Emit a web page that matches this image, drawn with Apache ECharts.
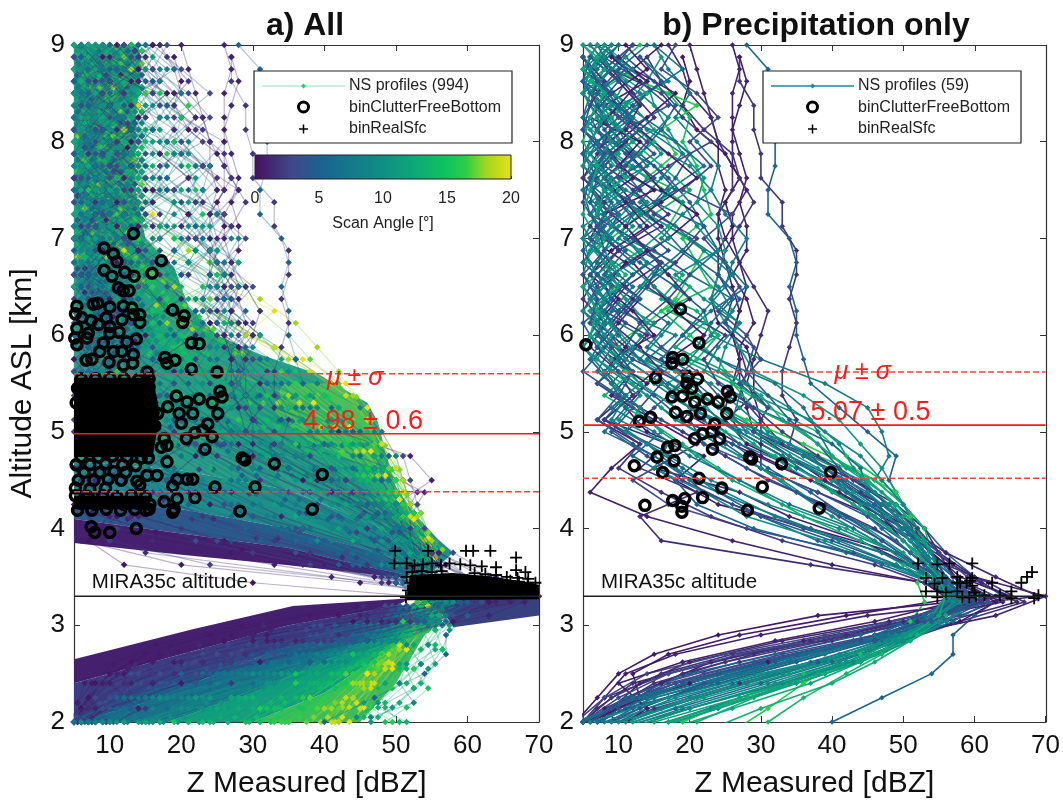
<!DOCTYPE html>
<html><head><meta charset="utf-8">
<style>html,body{margin:0;padding:0;background:#fff}#c{width:1063px;height:806px}</style>
<script src="https://cdn.jsdelivr.net/npm/echarts@6/dist/echarts.min.js"></script>
</head><body><div id="c"></div>
<script>
// altitude bins (km) for even and odd rows
const levelsEven=[9,8.75,8.5,8.25,8,7.75,7.5,7.25,7,6.75,6.5,6.25,6,5.75,5.5,5.25,5,4.75,4.5,4.25,4,3.75,3.5,3.3,3.1,2.9,2.7,2.5,2.25,2];
const levelsOdd=[8.875,8.625,8.375,8.125,7.875,7.625,7.375,7.125,6.875,6.625,6.375,6.125,5.875,5.625,5.375,5.125,4.875,4.625,4.375,4.125,3.875,3.625,3.44,3.24,3.04,2.84,2.62,2.4,2.14,1.9];
const weakLevelsEven=[8.94,8.69,8.44,8.19,7.94,7.69,7.44,7.19,6.94,6.69,6.44,6.19,5.94];
const weakLevelsOdd=[8.81,8.56,8.31,8.06,7.81,7.56,7.31,7.06,6.81,6.56,6.31,6.06,5.81];
const upperLevelsEven=[5.3,5.05,4.8,4.55,4.3,4.1,3.9,3.7];
const upperLevelsOdd=[5.36,5.11,4.86,4.61,4.36,4.16,3.96,3.78];
const lowerLevelsEven=[3.2,3,2.8,2.6,2.4,2.2,2.05];
const lowerLevelsOdd=[3.15,2.95,2.75,2.55,2.35,2.15,2];
const xTicks=[10,20,30,40,50,60,70];
const angleTicks=[0,5,10,15,20];
const angleStops=[[0,'#45105f'],[3,'#3f4a8a'],[5,'#1b6090'],[7.5,'#14798a'],[10,'#0f8f84'],[12.5,'#0fa878'],[15,'#10c45c'],[16.5,'#2fcf45'],[18,'#a0d620'],[20,'#ecdf10']];
const precipAngles=[5.5,2,1,1,1,.5,1.5,2,8,11,15,16,14,4.5,3,6,9,10,7,12,13,8.5,2.5,1,.5,3.5,5,6.5,9.5,10.5,8,11.5,7.5,4,2,1,.5,1.5,3,.8,5.5,6,9,10,12,13,7,4,3,2,6.5,8.5,11,9.5,7,5,10,3.5,12.5];
const precipProfiles=[
[28,31,31,31,32,32,31,31,34,35,34,35,35,36,37,41,45,49,48,50,53,56,60,64,60,57,57,54,47,40],
[27,27,29,29,30,30,33,33,35,35,34,35,34,33,33,35,34,41,46,49,52,56,62,67,58,50,38,27,15,7],
[26,27,26,26,26,26,28,26,26,27,28,27,26,27,27,28,29,34,39,45,51,56,63,69,45,30,18,11,8,5],
[27,28,27,26,27,28,27,28,28,26,28,29,27,27,29,30,30,30,38,46,52,57,61,66,56,44,30,18,9,3],
[20,21,22,23,24,24,25,24,24,25,26,27,26,27,26,25,27,33,40,47,51,55,60,70,63,50,35,24,14,4],
[19,20,19,21,25,27,25,26,24,24,23,24,28,29,29,25,28,35,42,48,52,56,58,63,58,46,31,20,10,3],
[17,19,20,23,24,26,26,24,25,27,29,31,30,29,28,31,29,36,43,49,53,55,57,62,54,42,29,19,11,5],
[14,16,19,22,26,27,29,27,25,24,26,25,27,28,27,30,33,39,44,50,53,55,56,60,52,40,27,16,10,6],
[15,17,20,18,21,24,23,25,28,26,25,22,23,30,39,45,47,48,46,50,52,54,57,61,57,52,46,38,27,17],
[16,14,15,17,19,22,21,24,25,24,23,25,27,29,36,41,44,47,49,51,53,54,56,59,55,50,43,34,24,14],
[13,9,17,20,19,21,22,23,19,21,23,16,20,24,26,31,38,42,47,50,52,53,53,56,54,50,44,36,27,19],
[6,13,21,16,18,14,19,17,22,20,18,14,9,11,20,28,36,43,49,51,52,53,52,53,51,47,41,36,31,26],
[8,12,7,10,15,11,18,13,9,14,20,17,24,21,17,25,30,38,46,50,53,54,55,57,55,52,47,42,36,31],
[11,15,18,16,13,17,20,22,19,24,27,25,29,28,31,34,38,41,42,46,51,54,57,61,56,49,38,28,16,8],
[18,16,21,24,20,23,19,26,22,25,27,24,28,30,27,31,29,37,41,46,51,55,59,65,58,46,33,22,12,5],
[9,14,11,16,20,18,15,22,24,20,26,23,21,27,25,33,40,44,45,48,51,55,58,62,57,50,40,30,18,8],
[12,8,13,17,14,20,23,19,16,21,24,26,23,20,28,34,39,44,47,50,52,54,55,58,55,50,42,32,20,10],
[7,11,9,13,16,12,19,21,24,18,22,27,25,24,29,37,41,43,46,49,52,54,56,60,56,51,44,35,23,12],
[15,19,14,11,18,22,17,14,20,25,28,23,19,24,32,36,38,40,45,49,52,54,56,58,54,47,37,27,15,7],
[10,6,12,15,9,14,11,17,13,19,16,22,18,25,30,33,38,42,47,50,52,53,55,57,54,50,44,37,26,16],
[5,9,14,8,12,16,20,15,11,18,13,21,24,19,26,29,36,40,45,49,52,54,55,58,56,51,46,39,29,21],
[13,17,10,14,19,16,13,18,22,26,23,27,24,22,27,26,34,39,45,49,52,54,55,59,55,49,41,31,19,9],
[12,9,16,19,23,17,12,15,21,18,14,19,25,22,24,29,33,38,43,48,52,55,57,63,55,43,28,17,8,4],
[10,14,8,13,17,21,16,11,14,17,20,15,12,19,22,19,26,33,41,47,50,54,57,64,50,36,23,16,8,11],
[16,12,18,14,10,13,16,21,17,12,15,18,22,17,13,18,24,30,37,44,50,54,58,65,38,24,15,10,7,4],
[8,13,17,11,15,10,14,9,15,20,17,13,16,21,24,20,22,30,38,45,50,54,57,61,54,43,30,18,9,4],
[14,10,7,12,9,15,18,12,8,13,18,22,19,16,21,25,28,34,41,46,50,54,56,60,55,47,35,24,13,6],
[6,10,13,9,12,8,11,16,19,15,12,17,14,20,17,23,27,35,42,47,51,54,56,59,54,47,37,26,14,7],
[9,5,8,11,7,12,9,13,17,11,15,19,16,13,23,27,31,37,44,48,51,54,55,58,55,50,42,33,21,11],
[11,7,10,6,13,8,14,10,7,12,9,15,12,18,22,26,32,38,43,48,51,53,55,57,54,49,42,32,20,10],
[7,12,6,9,11,14,8,12,10,16,13,10,18,14,19,24,30,36,42,47,51,53,55,58,54,48,39,29,17,8],
[5,8,11,7,10,6,12,9,13,8,11,14,10,16,21,24,29,34,40,46,50,53,55,57,54,50,44,35,24,13],
[10,6,9,12,7,10,13,8,11,14,10,7,13,18,15,20,27,33,40,45,50,53,55,58,54,47,38,28,15,7],
[13,16,12,8,11,15,10,13,17,12,9,13,11,15,18,22,25,30,35,42,49,53,56,61,54,44,30,19,10,5],
[6,9,12,15,11,8,13,17,12,16,11,8,14,11,16,13,19,25,31,39,46,51,55,62,54,41,26,16,9,5],
[8,5,10,13,9,12,7,11,14,9,13,10,7,12,9,15,21,15,27,34,44,51,55,60,48,33,20,13,9,6],
[11,14,9,6,13,10,15,8,6,11,8,12,15,9,14,11,14,22,18,24,37,49,54,59,42,27,17,12,13,6],
[7,10,13,11,6,9,12,16,10,7,12,9,13,16,12,8,17,13,21,13,16,37,53,58,50,37,23,12,7,4],
[12,8,6,10,14,11,8,6,12,16,14,11,8,12,19,15,11,18,12,17,28,43,54,59,52,39,25,14,8,5],
[9,13,10,7,5,8,11,14,9,6,10,7,11,8,11,7,13,9,6,14,26,40,53,57,46,32,19,10,14,9],
[8,11,7,5,9,13,6,10,8,12,6,10,7,12,9,13,16,12,18,21,29,42,54,57,53,44,32,20,11,5],
[5,7,10,13,8,5,9,7,11,8,13,6,9,7,11,8,14,19,24,30,38,47,54,58,53,45,34,23,12,6],
[6,9,5,8,10,7,11,6,9,7,10,8,6,10,7,13,11,17,23,31,41,49,54,57,54,49,41,31,18,9],
[8,5,7,10,6,9,7,12,8,10,6,9,12,8,13,10,17,15,22,28,39,48,54,58,54,49,42,33,20,10],
[5,8,6,9,12,7,10,6,8,5,9,7,10,6,9,12,16,21,26,33,42,49,54,56,54,50,45,38,27,15],
[7,6,9,5,8,11,6,9,7,11,8,6,9,12,8,14,19,24,30,36,44,50,54,57,55,51,46,40,30,22],
[9,6,8,11,7,5,8,10,6,8,12,9,7,10,13,9,15,20,27,34,43,49,54,58,53,46,36,26,14,7],
[6,10,7,5,9,6,12,7,10,6,8,11,8,5,10,7,12,18,22,30,40,49,54,59,53,44,32,22,13,6],
[7,5,9,6,8,10,6,9,5,9,7,5,9,11,7,12,9,14,19,26,36,47,54,60,52,41,27,17,10,5],
[5,8,6,9,7,5,8,6,10,7,5,8,6,10,12,8,13,10,16,23,33,46,53,61,52,39,25,15,9,4],
[10,7,5,8,6,9,5,8,7,5,9,6,8,6,9,11,8,15,20,28,37,47,54,58,53,46,36,25,12,5],
[6,5,8,7,5,8,10,5,7,9,6,8,5,8,11,9,14,18,25,32,41,49,54,57,54,48,39,28,16,6],
[8,6,5,7,9,6,8,7,5,8,10,6,9,7,12,16,21,27,33,38,45,50,54,56,54,50,43,34,22,12],
[5,7,9,5,8,6,7,9,6,5,8,7,5,9,14,18,24,30,35,40,46,51,54,57,55,50,43,33,20,8],
[7,9,6,5,7,8,5,6,9,7,5,8,10,13,17,22,27,33,38,43,47,51,55,59,54,47,38,27,13,4],
[6,5,7,9,5,7,6,8,5,7,9,5,7,10,15,19,26,31,37,42,47,52,56,60,54,46,35,24,11,4],
[9,6,5,8,6,5,9,7,5,6,8,5,8,11,16,20,28,34,40,44,48,52,55,58,55,50,42,30,17,6],
[5,7,6,5,8,6,5,7,8,5,7,6,9,12,10,16,22,28,35,41,47,52,57,62,53,43,29,17,9,4],
[7,5,8,6,5,7,6,5,7,9,5,7,6,9,13,18,25,32,38,43,48,52,55,56,55,51,46,39,28,17]
];
const clearAngles=[16,18,19,17,20,15,14,13,12,11,10,9,16.5,14.5,13.5,12.5,11.5,10.5,9.5,8.5,8,7.5,7,6.5,6,5,4,3,2,1,.5,.8,1.5,2.5,3.5,4.5,5.5,10,8,11,7,12,9,13,6,1.5,1,2,3,18,17,15,12,.3,2.2,3.2,4.2,5.2,6.2,7.2,8.2,9.2,10.2,11.2,12.2,13.2,14.2,15.2,16.2,17.2,18.2,19.2];
const clearProfiles=[
[12,7,14,9,13,6,11,15,8,12,16,10,14,18,24,33,42,47,50,52,54,55,53,54,52,49,46,42,37,33],
[8,13,6,11,15,9,14,7,12,16,11,18,22,27,35,41,46,49,51,53,55,56,54,54,53,51,48,45,41,39],
[14,9,12,7,10,14,8,13,16,10,19,24,30,36,41,45,47,49,50,51,52,53,52,53,52,50,48,46,43,41],
[6,11,15,8,13,10,15,9,14,18,24,21,28,34,38,43,46,48,50,52,54,55,53,54,53,50,47,44,39,36],
[10,15,7,12,8,14,11,16,12,21,26,33,29,37,43,46,48,50,51,52,53,54,52,52,51,50,48,46,44,42],
[13,6,10,14,7,12,16,11,7,13,17,14,19,25,32,39,44,47,50,52,54,55,53,55,53,50,45,39,32,27],
[7,12,15,9,11,6,13,8,14,10,15,19,23,29,36,42,46,48,49,51,53,55,54,56,54,50,44,37,29,23],
[11,8,5,13,9,15,7,11,16,12,9,14,17,22,29,35,40,44,47,50,52,54,54,56,54,50,43,35,26,19],
[6,14,9,7,12,10,14,6,9,13,11,16,13,19,24,30,36,41,45,48,51,53,54,56,54,49,41,32,22,15],
[9,5,13,10,6,14,8,12,10,7,14,10,15,12,18,25,31,37,42,46,50,52,53,56,54,49,40,30,19,12],
[12,8,6,11,14,7,10,5,13,9,12,8,11,16,13,20,27,33,38,43,47,51,53,55,53,48,38,27,16,9],
[5,10,13,7,9,12,6,14,8,11,6,13,9,14,11,16,22,28,34,39,44,49,52,56,53,47,37,26,14,7],
[9,6,12,15,8,11,13,7,10,15,12,9,15,21,28,36,43,47,50,52,53,54,52,54,52,50,47,43,38,34],
[13,11,7,10,14,5,9,12,15,8,13,17,21,16,24,32,40,45,48,51,53,54,53,55,54,51,47,41,34,28],
[7,9,14,6,12,15,11,6,9,14,10,7,13,18,26,34,41,45,47,49,51,52,52,54,53,50,45,38,30,24],
[10,14,6,13,5,8,12,15,7,11,8,14,17,23,28,31,35,40,44,47,50,52,53,55,54,50,43,36,25,18],
[6,11,9,5,12,7,14,9,12,6,10,13,9,12,19,26,33,38,42,45,49,52,53,56,54,49,42,33,22,14],
[14,7,10,13,8,11,6,13,5,10,14,7,12,8,14,21,28,35,40,44,48,51,53,56,54,49,41,31,20,11],
[8,12,5,9,14,6,10,7,12,15,8,11,6,11,15,18,25,31,37,42,46,50,53,57,54,48,39,29,18,10],
[11,6,14,8,7,13,10,14,9,6,12,9,14,10,8,14,21,27,33,39,45,50,53,57,53,47,36,25,14,8],
[5,13,9,12,6,10,5,11,14,8,10,13,7,13,10,6,15,22,29,36,42,48,52,56,53,46,34,23,13,7],
[12,9,7,14,11,5,13,8,6,12,14,6,11,8,13,11,8,18,26,33,40,47,52,57,53,45,33,22,12,6],
[7,14,11,6,9,13,7,12,10,5,8,11,14,9,6,12,16,13,22,30,38,46,51,56,52,44,32,20,11,6],
[10,5,8,13,6,10,14,6,9,13,11,7,9,6,11,8,13,10,18,27,36,45,51,58,52,43,30,18,10,5],
[13,8,11,5,14,7,9,12,7,11,5,9,12,7,10,14,9,15,20,26,34,44,51,57,52,42,28,17,9,5],
[6,10,13,9,7,12,5,10,14,6,9,13,8,11,7,10,13,8,14,22,33,44,50,58,51,40,26,15,9,6],
[9,13,5,11,8,6,11,14,5,10,12,6,9,5,12,8,6,11,16,19,30,42,50,58,50,38,24,14,8,5],
[11,6,9,7,13,10,8,5,11,14,7,10,6,10,7,13,9,12,9,15,25,40,50,60,50,37,22,13,8,5],
[5,8,12,10,6,13,9,7,13,8,11,5,10,7,9,6,11,7,12,9,20,38,49,61,49,35,21,12,7,5],
[8,11,6,14,9,5,12,10,7,5,9,12,7,11,6,9,7,10,6,11,13,33,49,63,49,34,20,11,7,5],
[6,9,13,7,10,12,6,8,11,9,6,8,11,5,8,10,6,9,8,5,9,27,47,66,48,32,18,10,7,5],
[12,7,10,5,8,11,14,6,9,13,7,10,5,9,6,8,12,5,7,10,6,20,45,68,47,30,16,9,6,5],
[5,10,7,12,6,9,7,13,5,8,11,7,9,12,8,6,9,11,8,6,8,15,41,60,46,30,17,10,7,6],
[9,6,11,8,13,5,10,8,12,6,9,13,6,8,11,7,10,6,9,13,10,24,48,59,47,33,19,11,8,5],
[7,12,5,10,7,14,6,11,9,12,5,8,11,6,9,12,8,13,7,11,18,36,49,58,49,36,23,13,8,6],
[14,9,7,5,11,8,12,5,13,7,10,6,13,9,5,10,7,9,13,17,27,40,50,57,50,38,25,15,9,7],
[6,13,10,8,5,12,9,7,5,11,13,8,5,12,8,11,14,10,16,21,32,43,50,56,51,41,28,17,10,8],
[15,12,17,19,21,18,22,20,24,26,23,28,30,35,40,44,47,49,50,51,52,54,54,57,54,49,41,30,18,10],
[14,18,16,20,17,22,25,21,27,24,29,27,31,36,41,45,48,50,51,52,53,55,55,58,54,48,38,26,15,8],
[11,13,16,14,19,16,20,23,19,25,22,26,24,33,38,42,46,48,50,52,53,55,54,57,54,49,42,31,19,11],
[13,11,15,17,13,18,16,21,24,19,27,24,29,25,33,38,43,47,49,51,53,55,55,59,53,46,35,24,14,8],
[9,14,12,16,13,15,19,17,22,26,21,28,25,30,36,41,45,48,50,52,54,55,54,56,54,50,44,35,24,15],
[16,13,18,14,20,23,19,25,22,28,26,23,27,32,35,39,44,47,49,51,53,54,54,58,54,49,40,29,17,9],
[12,15,11,14,17,12,16,19,15,21,18,24,27,23,30,37,43,46,49,51,53,55,54,56,54,50,45,38,28,20],
[17,15,19,22,18,24,21,26,23,21,25,29,26,31,34,37,41,45,48,50,52,54,55,60,54,46,34,24,13,7],
[15,17,14,19,17,21,23,20,24,27,25,28,26,29,27,30,36,47,54,52,52,55,60,66,56,42,27,16,9,5],
[13,16,19,22,19,23,26,24,22,25,28,25,30,27,31,33,42,52,55,50,51,56,62,68,57,43,27,16,8,5],
[18,21,18,23,20,25,22,27,24,21,27,30,28,32,29,34,40,49,53,51,50,56,63,64,55,41,26,15,9,6],
[16,20,24,20,26,23,28,25,29,26,30,27,31,29,32,35,44,51,52,53,54,58,64,62,54,40,25,15,9,6],
[9,13,8,15,11,14,12,17,21,26,31,36,39,42,44,46,48,50,51,52,54,55,53,54,52,50,47,44,40,37],
[7,12,15,10,14,9,16,13,19,24,29,31,35,38,42,45,47,49,51,52,53,54,53,54,53,50,46,43,38,35],
[10,8,14,11,7,15,12,10,17,25,27,26,33,36,40,44,47,49,50,52,53,55,54,55,53,50,46,40,33,28],
[8,15,11,13,16,12,15,21,24,28,25,27,31,34,37,42,45,47,50,51,53,54,54,56,54,49,43,35,24,16],
[7,10,5,9,13,6,11,8,10,7,12,6,9,5,10,7,9,5,8,11,7,12,30,62,44,26,13,8,6,5],
[10,5,12,7,9,14,5,10,6,13,8,11,6,12,6,9,5,12,6,8,11,30,48,58,48,36,24,15,9,6],
[5,9,7,13,11,6,9,12,8,5,11,6,10,7,13,5,10,7,11,14,22,38,50,56,48,38,28,18,11,7],
[11,7,14,6,10,8,13,6,11,9,5,12,8,10,6,12,8,13,10,15,24,39,50,54,50,40,30,20,12,8],
[8,13,6,10,12,5,9,13,7,11,14,8,11,5,9,13,6,11,17,22,31,42,50,55,50,42,31,22,13,8],
[5,11,8,14,7,10,6,12,9,6,10,13,5,10,14,7,12,16,21,27,35,44,51,54,50,43,33,24,14,9],
[12,6,10,5,13,9,11,5,14,8,11,7,12,8,11,14,10,18,24,30,38,46,51,55,51,45,36,26,16,10],
[6,14,9,12,5,11,7,13,6,10,13,5,10,14,7,12,17,23,28,34,41,47,52,55,52,46,38,29,19,12],
[13,8,5,10,14,7,12,9,11,5,8,12,7,11,14,18,22,27,33,38,44,49,52,56,52,47,39,31,21,14],
[7,11,14,6,9,13,5,10,7,13,11,6,13,9,16,20,25,31,36,41,46,50,53,55,53,48,41,33,23,16],
[10,5,9,13,7,11,14,6,12,9,6,11,8,14,18,23,29,34,39,43,48,51,53,55,53,49,43,35,26,18],
[14,9,12,7,5,10,6,13,8,11,14,9,13,17,22,28,33,38,42,46,50,52,53,55,53,49,44,37,28,21],
[6,12,8,11,14,7,10,5,13,7,11,15,10,16,25,31,37,41,45,48,51,53,53,54,53,50,45,39,31,25],
[11,7,13,5,9,12,8,14,6,12,9,13,17,22,29,35,40,44,47,49,51,53,53,54,53,50,46,41,34,29],
[9,14,6,11,13,8,12,6,10,14,11,16,20,26,32,38,43,46,48,50,52,53,52,54,52,50,47,43,37,32],
[6,10,13,8,12,15,7,11,14,9,14,18,24,30,36,41,45,48,50,51,53,54,52,53,52,50,48,44,40,35],
[12,8,11,14,6,10,13,9,12,16,13,20,27,33,39,44,47,49,50,52,53,54,52,53,52,50,48,46,42,39],
[7,13,9,6,12,14,8,13,10,14,18,24,29,35,41,45,47,49,51,52,53,54,52,53,52,51,49,47,44,42],
[10,6,14,12,8,11,15,7,12,17,22,27,33,38,43,46,48,50,51,52,53,53,52,53,52,51,49,47,45,44]
];
// weak upper-level segments of panel a
const weakAngles=[12,9,15,2,11,16,7,13,10,18,1,14,8,12.5,4,15.5,9.5,11.5,3,13.5,6,17,10.5,14.5,0.5,8.5,12,5,16,9,13,7.5,11,15,2.5,10,14,6.5,12,17.5];
const weakRows=[
[6.5,11.5,8.5,13.5,7.5,10.5,14.5,5.5,9.5,12.5,6.5,13.5,16.5],[10.5,5.5,13.5,9.5,6.5,12.5,7.5,11.5,14.5,8.5,11.5,15.5,10.5],[13.5,8.5,6.5,11.5,14.5,5.5,10.5,13.5,7.5,15.5,9.5,12.5,17.5],[7.5,14.5,10.5,5.5,12.5,8.5,13.5,6.5,11.5,9.5,14.5,8.5,12.5],
[5.5,9.5,12.5,7.5,10.5,14.5,6.5,8.5,13.5,11.5,17.5,14.5,19.5],[11.5,6.5,14.5,10.5,8.5,5.5,12.5,9.5,6.5,13.5,10.5,18.5,15.5],[8.5,12.5,5.5,13.5,6.5,11.5,9.5,14.5,10.5,7.5,12.5,9.5,14.5],[14.5,7.5,10.5,6.5,13.5,9.5,5.5,11.5,8.5,14.5,11.5,16.5,13.5],
[9.5,13.5,7.5,11.5,5.5,14.5,10.5,6.5,12.5,9.5,15.5,12.5,20.5],[6.5,10.5,14.5,8.5,12.5,7.5,13.5,11.5,5.5,13.5,16.5,21.5,18.5],[12.5,5.5,9.5,6.5,11.5,13.5,8.5,10.5,14.5,6.5,11.5,8.5,13.5],[7.5,11.5,6.5,14.5,9.5,5.5,12.5,7.5,10.5,16.5,13.5,18.5,22.5],
[13.5,8.5,11.5,5.5,10.5,12.5,6.5,14.5,8.5,11.5,9.5,15.5,12.5],[5.5,12.5,8.5,10.5,14.5,6.5,9.5,11.5,13.5,7.5,14.5,11.5,17.5],[10.5,14.5,6.5,12.5,7.5,11.5,14.5,5.5,9.5,12.5,8.5,13.5,10.5],[8.5,6.5,13.5,9.5,5.5,13.5,7.5,12.5,10.5,15.5,18.5,14.5,20.5],
[11.5,9.5,5.5,14.5,8.5,10.5,12.5,6.5,14.5,9.5,13.5,17.5,14.5],[6.5,13.5,10.5,7.5,12.5,5.5,8.5,13.5,7.5,12.5,10.5,14.5,18.5],[14.5,5.5,8.5,11.5,6.5,13.5,10.5,7.5,12.5,5.5,9.5,6.5,11.5],[9.5,7.5,12.5,5.5,14.5,8.5,11.5,13.5,6.5,14.5,17.5,13.5,19.5],
[12.5,10.5,6.5,13.5,7.5,9.5,5.5,12.5,10.5,8.5,13.5,16.5,12.5],[5.5,8.5,13.5,10.5,6.5,14.5,11.5,7.5,13.5,17.5,20.5,24.5,27.5],[10.5,13.5,7.5,5.5,11.5,8.5,12.5,14.5,6.5,10.5,14.5,12.5,16.5],[7.5,5.5,11.5,14.5,9.5,6.5,13.5,10.5,12.5,15.5,12.5,18.5,23.5],
[13.5,11.5,8.5,6.5,12.5,10.5,5.5,9.5,7.5,13.5,6.5,10.5,8.5],[6.5,9.5,14.5,11.5,5.5,12.5,8.5,13.5,10.5,7.5,14.5,18.5,16.5],[11.5,7.5,5.5,9.5,13.5,6.5,14.5,10.5,8.5,16.5,13.5,19.5,15.5],[8.5,14.5,12.5,6.5,10.5,13.5,7.5,5.5,11.5,9.5,6.5,12.5,7.5],
[14.5,6.5,9.5,12.5,8.5,5.5,11.5,13.5,9.5,14.5,17.5,22.5,25.5],[5.5,11.5,13.5,7.5,14.5,9.5,6.5,10.5,14.5,12.5,9.5,13.5,16.5],[9.5,12.5,6.5,10.5,5.5,13.5,8.5,11.5,7.5,12.5,16.5,13.5,18.5],[12.5,5.5,10.5,13.5,7.5,11.5,14.5,6.5,9.5,6.5,10.5,14.5,11.5],
[7.5,13.5,8.5,5.5,11.5,14.5,10.5,12.5,5.5,11.5,14.5,11.5,15.5],[10.5,6.5,14.5,11.5,9.5,7.5,13.5,5.5,12.5,14.5,19.5,16.5,23.5],[13.5,9.5,7.5,12.5,6.5,10.5,5.5,14.5,8.5,11.5,7.5,12.5,9.5],[5.5,14.5,11.5,8.5,13.5,6.5,12.5,9.5,10.5,6.5,12.5,15.5,11.5],
[11.5,8.5,13.5,6.5,10.5,12.5,7.5,14.5,5.5,13.5,15.5,12.5,17.5],[8.5,12.5,5.5,14.5,7.5,9.5,13.5,6.5,11.5,8.5,14.5,10.5,13.5],[6.5,10.5,12.5,9.5,5.5,14.5,11.5,8.5,13.5,10.5,12.5,16.5,20.5],[14.5,7.5,11.5,5.5,13.5,8.5,6.5,12.5,9.5,14.5,18.5,23.5,28.5]
];
// upper fan segments of panel a
const upperAngles=[1,.5,2,3,1.5,4,5,2.5,6,3.5,7,4.5,8,5.5,9,6.5,10,7.5,11,8.5,12,9.5,13,10.5,14,11.5,15,12.5,16,13.5,17,14.5,18,15.5,19,16.5,20,17.5];
const upperRows=[
[8.5,6.5,9.5,7.5,10.5,12.5,19.5,37.5],[6.5,9.5,7.5,5.5,8.5,7.5,16.5,28.5],[11.5,8.5,12.5,10.5,14.5,21.5,30.5,44.5],[9.5,12.5,10.5,15.5,21.5,27.5,36.5,47.5],[13.5,10.5,13.5,11.5,17.5,24.5,33.5,42.5],[12.5,15.5,19.5,24.5,30.5,36.5,43.5,50.5],[14.5,18.5,22.5,28.5,34.5,40.5,46.5,51.5],[16.5,13.5,17.5,22.5,29.5,37.5,44.5,49.5],
[11.5,16.5,23.5,30.5,36.5,42.5,47.5,52.5],[18.5,20.5,25.5,33.5,40.5,45.5,49.5,52.5],[13.5,19.5,26.5,33.5,39.5,44.5,48.5,52.5],[21.5,26.5,32.5,38.5,43.5,47.5,50.5,52.5],[15.5,22.5,29.5,35.5,41.5,45.5,49.5,53.5],[24.5,30.5,36.5,41.5,45.5,48.5,50.5,53.5],[16.5,24.5,31.5,37.5,42.5,46.5,50.5,53.5],[27.5,33.5,38.5,43.5,46.5,49.5,51.5,53.5],
[18.5,25.5,32.5,38.5,43.5,47.5,50.5,53.5],[30.5,35.5,40.5,44.5,47.5,49.5,51.5,54.5],[19.5,27.5,34.5,40.5,44.5,48.5,51.5,53.5],[33.5,38.5,42.5,45.5,48.5,50.5,52.5,54.5],[20.5,26.5,31.5,36.5,41.5,45.5,49.5,53.5],[35.5,40.5,43.5,46.5,49.5,51.5,53.5,55.5],[22.5,29.5,35.5,40.5,44.5,47.5,50.5,53.5],[38.5,42.5,45.5,48.5,50.5,52.5,53.5,55.5],
[24.5,31.5,37.5,42.5,46.5,49.5,51.5,53.5],[28.5,34.5,39.5,43.5,46.5,49.5,51.5,54.5],[26.5,33.5,39.5,44.5,47.5,50.5,52.5,54.5],[31.5,36.5,41.5,45.5,48.5,50.5,52.5,54.5],[29.5,35.5,41.5,45.5,48.5,50.5,52.5,54.5],[34.5,38.5,43.5,46.5,49.5,51.5,53.5,54.5],[31.5,38.5,42.5,46.5,49.5,51.5,53.5,55.5],[37.5,41.5,44.5,47.5,50.5,52.5,53.5,55.5],
[33.5,39.5,44.5,47.5,50.5,52.5,54.5,55.5],[40.5,43.5,46.5,48.5,50.5,52.5,54.5,55.5],[36.5,41.5,45.5,48.5,50.5,52.5,54.5,55.5],[42.5,45.5,47.5,49.5,51.5,53.5,54.5,55.5],[38.5,43.5,46.5,48.5,50.5,52.5,54.5,55.5],[44.5,46.5,48.5,50.5,51.5,53.5,54.5,56.5]
];
// lower fan segments of panel a
const lowerAngles=[.5,1,1.5,2,2.5,3,3.5,4,4.5,5,5.5,6,6.5,7,7.5,8,8.5,9,9.5,10,10.5,11,11.5,12,12.5,13,13.5,14,14.5,15,15.5,16,16.5,17,17.5,18,18.5,19,19.5,20,.8,2.2,3.8,5.2,6.8,8.2,14,11,13,15,10,16,12,14,9,13];
const lowerRows=[
[44.5,28.5,16.5,10.5,7.5,5.5,6.5],[47.5,32.5,20.5,12.5,8.5,6.5,5.5],[45.5,31.5,22.5,13.5,9.5,7.5,6.5],[48.5,35.5,24.5,15.5,10.5,7.5,5.5],[46.5,36.5,26.5,17.5,11.5,8.5,6.5],[49.5,37.5,28.5,19.5,12.5,9.5,7.5],[48.5,39.5,30.5,21.5,14.5,9.5,6.5],[50.5,40.5,32.5,23.5,15.5,10.5,7.5],
[49.5,41.5,33.5,25.5,17.5,11.5,8.5],[51.5,42.5,34.5,26.5,18.5,12.5,9.5],[50.5,43.5,35.5,27.5,20.5,13.5,9.5],[51.5,44.5,36.5,29.5,21.5,14.5,10.5],[50.5,45.5,37.5,30.5,22.5,15.5,11.5],[52.5,45.5,38.5,31.5,24.5,17.5,12.5],[51.5,46.5,39.5,32.5,25.5,18.5,13.5],[52.5,47.5,40.5,33.5,26.5,19.5,15.5],
[51.5,46.5,41.5,34.5,27.5,21.5,16.5],[53.5,48.5,41.5,35.5,29.5,22.5,17.5],[52.5,47.5,42.5,36.5,30.5,23.5,18.5],[53.5,48.5,43.5,37.5,31.5,24.5,19.5],[52.5,49.5,43.5,38.5,32.5,25.5,20.5],[53.5,48.5,44.5,39.5,33.5,26.5,22.5],[52.5,49.5,45.5,39.5,34.5,27.5,23.5],[53.5,49.5,45.5,40.5,35.5,29.5,24.5],
[53.5,50.5,46.5,41.5,36.5,30.5,25.5],[54.5,50.5,46.5,42.5,37.5,31.5,26.5],[53.5,50.5,47.5,42.5,38.5,32.5,27.5],[54.5,50.5,47.5,43.5,39.5,33.5,29.5],[53.5,51.5,48.5,44.5,40.5,34.5,30.5],[54.5,51.5,48.5,45.5,41.5,36.5,32.5],[54.5,51.5,48.5,45.5,42.5,37.5,33.5],[54.5,51.5,49.5,46.5,43.5,38.5,34.5],
[54.5,52.5,49.5,46.5,43.5,39.5,36.5],[55.5,52.5,49.5,47.5,44.5,40.5,37.5],[54.5,52.5,50.5,47.5,44.5,41.5,38.5],[55.5,52.5,50.5,48.5,45.5,42.5,39.5],[54.5,52.5,50.5,48.5,45.5,42.5,40.5],[55.5,53.5,51.5,48.5,46.5,43.5,41.5],[54.5,52.5,50.5,49.5,46.5,44.5,42.5],[55.5,53.5,51.5,49.5,47.5,45.5,43.5],
[46.5,30.5,18.5,9.5,6.5,5.5,7.5],[47.5,33.5,23.5,14.5,8.5,6.5,9.5],[49.5,38.5,29.5,20.5,13.5,8.5,5.5],[50.5,41.5,33.5,25.5,16.5,10.5,6.5],[51.5,44.5,37.5,30.5,23.5,16.5,10.5],[52.5,47.5,40.5,33.5,28.5,21.5,14.5],
[57.5,56.5,55.5,53.5,51.5,48.5,45.5],[56.5,57.5,56.5,54.5,52.5,49.5,46.5],[57.5,57.5,54.5,55.5,53.5,50.5,47.5],[56.5,55.5,56.5,52.5,54.5,51.5,48.5],[57.5,56.5,54.5,51.5,50.5,47.5,44.5],[55.5,54.5,53.5,52.5,49.5,46.5,49.5],[56.5,55.5,52.5,50.5,48.5,45.5,46.5],[55.5,55.5,53.5,50.5,47.5,48.5,50.5],[57.5,54.5,51.5,53.5,50.5,52.5,46.5],[54.5,53.5,55.5,51.5,52.5,47.5,51.5]
];
// density regions of the 994-profile panel, as [Z, altitude]
const massTop=[[5,9],[14,9],[14.5,8.8],[13.6,8.2],[13.6,7.5],[15,7],[19,6.7],[21,6.3],[25,6],[31,5.8],[39,5.6],[46,5.3],[47.5,5.1],[48.5,4.8],[50,4.43],[52.5,4.16],[56,3.88],[55,3.75],[45,4.1],[35,4.4],[20,4.6],[5,4.7]];
const massTeal=[[5,4.7],[20,4.6],[35,4.4],[45,4.1],[55,3.75],[56,3.88],[58,3.75],[55,3.55],[45,3.8],[35,4],[20,4.2],[5,4.3]];
const massBlue=[[5,4.3],[20,4.2],[35,4],[45,3.8],[55,3.55],[60,3.7],[53,3.5],[45,3.62],[35,3.8],[20,3.95],[5,4.1]];
const massPurple=[[5,4.1],[20,3.95],[35,3.8],[45,3.62],[53,3.5],[50,3.5],[35,3.62],[20,3.73],[5,3.85]];
const massBright=[[34,5.5],[42,5.5],[46,5.2],[48,4.8],[47,4.6],[38,4.9],[33,5.2]];
const fanPurple=[[5,2.65],[21.6,2.96],[35.6,3.2],[52,3.28],[50,3.2],[35,3],[20,2.7],[5,2.4]];
const fanBlue=[[5,2.4],[20,2.7],[35,3],[50,3.2],[55,3.2],[45,3.05],[30,2.65],[15,2.2],[5,2.0]];
const fanDeep=[[5,2],[15,2.2],[30,2.65],[45,3.05],[55,3.2],[52,3.1],[42,2.7],[30,2.3],[18,2]];
const fanTeal=[[18,2],[30,2.3],[42,2.7],[52,3.1],[54,3.1],[50,2.8],[40,2.3],[30,2]];
const fanLime=[[30,2],[40,2.3],[50,2.8],[54,3.1],[57,3.1],[54,2.9],[50,2.4],[45,2]];
const fanTip=[[52,3.3],[70,3.3],[70,3.1],[58,2.98],[57,3.1],[55,3.2]];
// overlap regions where the markers merge into solid black
const blobCfbUpper=[[5,5.56],[16,5.56],[17,5.2],[16,4.74],[5,4.74]];
const blobCfbLower=[[5,4.34],[15.6,4.34],[15.6,4.2],[5,4.2]];
const blobSfc=[[51.5,3.26],[70,3.27],[70,3.42],[64,3.5],[58,3.54],[52,3.52]];
// binClutterFreeBottom of panel b
const cfbPrecip=[[5.4,5.9],[18.7,6.27],[21.3,5.92],[17.6,5.77],[17.5,5.71],[19,5.75],[15.2,5.56],[19.7,5.57],[21.1,5.55],[19.6,5.5],[20.3,5.45],[25.3,5.42],[25.7,5.36],[17.5,5.36],[19,5.37],[20.7,5.31],[22.5,5.34],[24,5.31],[18,5.2],[19.6,5.16],[21.5,5.19],[25.2,5.19],[14.5,5.15],[12.9,5.11],[23.5,5.08],[23.1,5],[21.8,4.98],[20.7,4.93],[24.2,4.93],[16.9,4.84],[17.9,4.86],[23.2,4.82],[15.4,4.74],[28.4,4.74],[28.7,4.72],[17.8,4.7],[12.2,4.65],[32.9,4.67],[39.8,4.58],[16.2,4.58],[21.3,4.52],[24.5,4.42],[30.2,4.43],[21.8,4.32],[17.6,4.29],[19.3,4.31],[13.7,4.24],[18.9,4.23],[28.1,4.19],[38.2,4.21],[18.9,4.17]];
// binClutterFreeBottom of panel a
const cfbAll=[[13.3,7.05],[9.2,6.9],[10.5,6.84],[11,6.76],[17.2,6.77],[15.9,6.64],[9.2,6.67],[10.3,6.61],[12.1,6.65],[13.4,6.61],[11.2,6.49],[11.9,6.46],[12.7,6.46],[5.4,6.3],[7.7,6.32],[8.3,6.33],[10,6.29],[11.9,6.3],[13.1,6.28],[18.8,6.26],[20.4,6.2],[20.2,6.13],[5.2,6.22],[6.1,6.18],[7.4,6.15],[8.4,6.11],[9.5,6.18],[10,6.09],[11.7,6.16],[14.2,6.13],[14.2,6.21],[13.3,6.21],[5.4,6.07],[7,6.02],[10,6.02],[11.3,6.03],[5.1,5.97],[6.8,5.97],[5.4,5.9],[9.1,5.92],[12.4,5.93],[13.7,5.96],[21.4,5.92],[22.5,5.91],[6.7,5.74],[7.5,5.75],[8.6,5.83],[10.5,5.83],[11.7,5.83],[13.3,5.8],[9.9,5.72],[11.9,5.69],[13.2,5.71],[17.7,5.77],[18,5.71],[19.1,5.74],[21.4,5.65],[25,5.62],[15.2,5.62],
[25.4,5.42],[25.7,5.36],[22.5,5.34],[20.8,5.31],[19.3,5.37],[24.3,5.3],[18.1,5.26],[16.7,5.19],[19.7,5.19],[21.6,5.19],[25.1,5.19],[20,5.09],[16.3,5.06],[23.7,5.08],[23,5.02],[21.9,4.99],[24.3,4.95],[20.7,4.93],[17.6,4.93],[18,4.86],[17.2,4.84],[23.3,4.82],[28.5,4.73],[28.9,4.71],[15.4,4.73],[18,4.69],[33,4.67],[39.7,4.56],[16.6,4.55],[15.2,4.55],[19.4,4.51],[20.8,4.51],[21.6,4.51],[18.8,4.44],[24.7,4.43],[30.3,4.43],[14.2,4.45],[21.9,4.32],[17.6,4.28],[19.4,4.31],[18.8,4.17],[19,4.2],[28.2,4.18],[38.3,4.2],[15.5,4.2],[7.4,4.02],[7.9,3.96],[10,3.96],[13.7,4],
[6,5.55],[8,5.55],[10,5.56],[12,5.55],[14,5.54],[15.5,5.55],[5.5,5.45],[7.5,5.46],[9.5,5.45],[11.5,5.44],[13.5,5.45],[15.5,5.46],[5.3,5.3],[15,5.29],[15.8,5.22],[15.2,5.14],[16,5.06],[15,4.98],[15,4.82],
[6,4.74],[8.4,4.74],[10.4,4.75],[12.4,4.74],[14.4,4.73],[5.3,4.66],[7.2,4.66],[9.4,4.67],[11.8,4.66],[13.6,4.65],[6.4,4.58],[8.6,4.58],[10.6,4.59],[12.2,4.58],[5.6,4.5],[7.8,4.5],[9.8,4.51],[11.6,4.5],[13.8,4.49],[5.2,4.42],[7.2,4.41],[9.4,4.42],[5.2,4.34],[7,4.33],[9,4.34],[11,4.33],[13,4.34],[15,4.33],[6,4.26],[8,4.25],[10,4.26],[12,4.25],[14,4.26],[15.6,4.25],[5.5,4.19],[7.5,4.19],[9.5,4.2],[11.5,4.19],[13.5,4.2],[15,4.19]];
// binRealSfc of panel b
const sfcPrecip=[[52.1,3.64],[54.8,3.63],[56.5,3.64],[59.7,3.64],[68.1,3.55],[67.4,3.5],[66.6,3.44],[53.2,3.49],[54.4,3.43],[55.5,3.49],[57.6,3.5],[57.6,3.44],[58.9,3.44],[59.7,3.49],[59.7,3.41],[62.5,3.44],[53.2,3.35],[54.8,3.35],[54.8,3.29],[56,3.34],[57.6,3.35],[58.3,3.29],[59.3,3.29],[60,3.34],[61.4,3.31],[63.6,3.31],[65.2,3.35],[65.2,3.28],[68.4,3.28],[69,3.31],[58,3.44],[59.4,3.46],[60.2,3.3]];
// binRealSfc of panel a
const sfcAll=[[49.9,3.77],[54.5,3.77],[59.8,3.77],[60.8,3.77],[63.2,3.77],[66.8,3.7],[49.8,3.64],[51.5,3.64],[52.6,3.62],[53.8,3.63],[55,3.64],[56.3,3.62],[57.5,3.64],[59,3.63],[60.4,3.62],[62,3.61],[64,3.6],[66.8,3.57],[68.1,3.55],[51.5,3.5],[52,3.44],[51.7,3.36],[51.4,3.29],[61,3.54],[62.5,3.53],[64,3.52],[65.5,3.5],[67,3.49],[68.5,3.48],[66,3.46],[67.2,3.45],[68.4,3.44],[69.5,3.44],[52.3,3.55],[53.6,3.56],[55,3.55],[56.4,3.56]];
const meanA=4.98, upperA=5.6, lowerA=4.38, meanB=5.07, upperB=5.62, lowerB=4.52, miraAlt=3.3;

const FONT='"Liberation Sans",Arial,sans-serif';
function hex(c){return [1,3,5].map(i=>parseInt(c.substr(i,2),16));}
function angleColor(a){
  for(let i=1;i<angleStops.length;i++){
    if(a<=angleStops[i][0]){
      const [a0,c0]=angleStops[i-1],[a1,c1]=angleStops[i],t=(a-a0)/(a1-a0),p=hex(c0),q=hex(c1);
      return 'rgb('+p.map((v,k)=>Math.round(v+(q[k]-v)*t)).join(',')+')';
    }
  }
  return angleStops[angleStops.length-1][1];
}
function profileSeries(rows,angles,ax,opts,evenLv,oddLv){
  return rows.map((row,i)=>{
    const lv=i%2?(oddLv||levelsOdd):(evenLv||levelsEven);
    const col=angleColor(angles[i]);
    return {type:'line',xAxisIndex:ax,yAxisIndex:ax,clip:true,silent:true,animation:false,z:opts.z,
      symbol:'diamond',symbolSize:opts.size,showSymbol:true,showAllSymbol:true,
      lineStyle:{color:col,width:opts.width,opacity:opts.opacity},itemStyle:{color:col},
      data:row.map((v,k)=>[v,lv[k]])};
  });
}
function polySeries(points,fill,z){
  return {type:'custom',xAxisIndex:0,yAxisIndex:0,clip:true,silent:true,animation:false,z:z||1,data:[[5,2]],
    renderItem:(p,api)=>({type:'polygon',shape:{points:points.map(q=>api.coord(q))},style:{fill:fill}})};
}
function hLine(ax,alt,color,type,w){
  return {type:'line',xAxisIndex:ax,yAxisIndex:ax,symbol:'none',silent:true,animation:false,z:10,
    lineStyle:{color:color,type:type,width:w},data:[[5,alt],[70,alt]]};
}
function note(ax,z,alt,text,size,color,italic){
  return {type:'scatter',xAxisIndex:ax,yAxisIndex:ax,symbolSize:1,silent:true,animation:false,z:11,
    itemStyle:{color:'transparent',opacity:1},data:[[z,alt]],
    label:{show:true,position:'inside',formatter:text,fontFamily:FONT,fontSize:size,color:color,fontStyle:italic?'italic':'normal'}};
}
function marks(ax,data,kind){
  const s={type:'scatter',xAxisIndex:ax,yAxisIndex:ax,silent:true,animation:false,z:kind==='o'?8:9,data:data};
  if(kind==='o'){s.symbol='circle';s.symbolSize=10;s.itemStyle={color:'transparent',borderColor:'#000',borderWidth:3.5,opacity:1};}
  else{s.symbol='path://M5 0V10M0 5H10';s.symbolSize=12;s.itemStyle={color:'transparent',borderColor:'#000',borderWidth:1.8,opacity:1};}
  return s;
}
const gridA={left:74,top:45,width:465,height:677};
const gridB={left:583,top:45,width:463,height:677};
const gridC={left:255,top:155,width:256,height:24,z:20};
const tickStyle={inside:true,length:6,lineStyle:{color:'#333',width:1}};
function xAx(idx,pos,name){
  return {type:'value',gridIndex:idx,position:pos,min:5,max:70,scale:false,
    axisLine:{show:true,onZero:false,lineStyle:{color:'#333',width:1.2}},splitLine:{show:false},
    axisTick:Object.assign({show:true,customValues:xTicks},tickStyle),
    axisLabel:pos==='bottom'?{show:true,customValues:xTicks,fontFamily:FONT,fontSize:26,color:'#111',margin:11}:{show:false},
    name:name,nameLocation:'middle',nameGap:47,nameTextStyle:{fontFamily:FONT,fontSize:30,color:'#111'}};
}
function yAx(idx,pos,name){
  return {type:'value',gridIndex:idx,position:pos,min:2,max:9,interval:1,
    axisLine:{show:true,onZero:false,lineStyle:{color:'#333',width:1.2}},splitLine:{show:false},
    axisTick:Object.assign({show:true},tickStyle),
    axisLabel:pos==='left'?{show:true,fontFamily:FONT,fontSize:26,color:'#111',margin:9}:{show:false},
    name:name,nameLocation:'middle',nameGap:36,nameRotate:90,nameTextStyle:{fontFamily:FONT,fontSize:30,color:'#111'}};
}
function legendBox(x,label,lineCol,markCol){
  const t=(s,y)=>({type:'text',z:102,style:{x:x+95,y:y,text:s,fontFamily:FONT,fontSize:16,fill:'#222',verticalAlign:'middle'}});
  return [
    {type:'rect',z:100,shape:{x:x,y:71,width:258,height:72},style:{fill:'#fff',stroke:'#222',lineWidth:1.2}},
    {type:'line',z:101,shape:{x1:x+8,y1:86,x2:x+91,y2:86},style:{stroke:lineCol,lineWidth:1.4}},
    {type:'polygon',z:102,shape:{points:[[x+49.5,83.5],[x+52,86],[x+49.5,88.5],[x+47,86]]},style:{fill:markCol}},
    {type:'circle',z:102,shape:{cx:x+49.5,cy:107,r:5},style:{fill:'transparent',stroke:'#000',lineWidth:3}},
    {type:'line',z:102,shape:{x1:x+45,y1:129,x2:x+54,y2:129},style:{stroke:'#000',lineWidth:1.5}},
    {type:'line',z:102,shape:{x1:x+49.5,y1:124.5,x2:x+49.5,y2:133.5},style:{stroke:'#000',lineWidth:1.5}},
    t(label,86),t('binClutterFreeBottom',108),t('binRealSfc',129)
  ];
}
const colorbar={type:'custom',xAxisIndex:4,yAxisIndex:4,silent:true,animation:false,z:50,data:[[0,0]],
  renderItem:(p,api)=>{
    const a=api.coord([0,0]),b=api.coord([20,1]);
    return {type:'rect',shape:{x:a[0],y:b[1],width:b[0]-a[0],height:a[1]-b[1]},
      style:{fill:{type:'linear',x:0,y:0,x2:1,y2:0,colorStops:angleStops.map(s=>({offset:s[0]/20,color:s[1]}))},stroke:'#222',lineWidth:1}};
  }};
const leftStyle={z:2,size:6.5,width:1.2,opacity:.35};
const option={
  backgroundColor:'#fff',animation:false,
  title:[
    {text:'a) All',left:300,top:5,textAlign:'center',textStyle:{fontFamily:FONT,fontSize:32,fontWeight:'bold',color:'#111'}},
    {text:'b) Precipitation only',left:811,top:5,textAlign:'center',textStyle:{fontFamily:FONT,fontSize:32,fontWeight:'bold',color:'#111'}}
  ],
  grid:[gridA,{...gridA},gridB,{...gridB},gridC],
  xAxis:[xAx(0,'bottom','Z Measured [dBZ]'),xAx(1,'top',''),xAx(2,'bottom','Z Measured [dBZ]'),xAx(3,'top',''),
    {type:'value',gridIndex:4,position:'bottom',min:0,max:20,interval:5,z:30,
     axisLine:{show:false},splitLine:{show:false},axisTick:{show:true,inside:true,length:3,customValues:angleTicks,lineStyle:{color:'#222'}},
     axisLabel:{show:true,fontFamily:FONT,fontSize:16,color:'#222',margin:12},
     name:'Scan Angle [°]',nameLocation:'middle',nameGap:37,nameTextStyle:{fontFamily:FONT,fontSize:16,color:'#222'}}],
  yAxis:[yAx(0,'left','Altitude ASL [km]'),yAx(1,'right',''),yAx(2,'left',''),yAx(3,'right',''),
    {type:'value',gridIndex:4,min:0,max:1,show:false}],
  series:[
    polySeries(massTop,'#2a9f86'),polySeries(massBright,'#4cbf5c'),polySeries(massTeal,'#1f8f8a'),polySeries(massBlue,'#2c5a8c'),polySeries(massPurple,'#45206f'),
    polySeries(fanPurple,'#45206f'),polySeries(fanBlue,'#3a3f85'),polySeries(fanDeep,'#22688e'),polySeries(fanTeal,'#169a82'),polySeries(fanLime,'#3dbc5e'),polySeries(fanTip,'#38407f'),
    ...profileSeries(weakRows,weakAngles,0,leftStyle,weakLevelsEven,weakLevelsOdd),
    ...profileSeries(upperRows,upperAngles,0,leftStyle,upperLevelsEven,upperLevelsOdd),
    ...profileSeries(lowerRows,lowerAngles,0,leftStyle,lowerLevelsEven,lowerLevelsOdd),
    ...profileSeries(clearProfiles,clearAngles,0,leftStyle),
    ...profileSeries(precipProfiles,precipAngles,0,{z:3,size:6.5,width:1.2,opacity:.35}),
    ...profileSeries(precipProfiles,precipAngles,2,{z:3,size:5.5,width:1.6,opacity:1}),
    polySeries(blobCfbUpper,'#000',7),polySeries(blobCfbLower,'#000',7),polySeries(blobSfc,'#000',7),
    hLine(0,miraAlt,'#222','solid',1.4),hLine(2,miraAlt,'#222','solid',1.4),
    hLine(0,meanA,'#ff1a1a','solid',1.6),hLine(0,upperA,'#ff4040','dashed',1.5),hLine(0,lowerA,'#ff4040','dashed',1.5),
    hLine(2,meanB,'#ff1a1a','solid',1.6),hLine(2,upperB,'#ff4040','dashed',1.5),hLine(2,lowerB,'#ff4040','dashed',1.5),
    marks(0,cfbAll,'o'),marks(0,sfcAll,'+'),marks(2,cfbPrecip,'o'),marks(2,sfcPrecip,'+'),
    note(0,45.4,5.11,'4.98 ± 0.6',27,'#ff1a1a'),note(0,44.3,5.56,'μ ± σ',25,'#ff1a1a',true),note(0,18.4,3.44,'MIRA35c altitude',20.5,'#111'),
    note(2,45.4,5.2,'5.07 ± 0.5',27,'#ff1a1a'),note(2,44.3,5.62,'μ ± σ',25,'#ff1a1a',true),note(2,18.5,3.44,'MIRA35c altitude',20.5,'#111'),
    colorbar
  ],
  graphic:{elements:[...legendBox(254,'NS profiles (994)','#b8e8cf','#2fcc60'),...legendBox(763,'NS profiles (59)','#1f8a9e','#1f8a9e')]}
};
const chart=echarts.init(document.getElementById('c'),null,{renderer:'canvas',width:1063,height:806});
chart.setOption(option);
</script></body></html>
